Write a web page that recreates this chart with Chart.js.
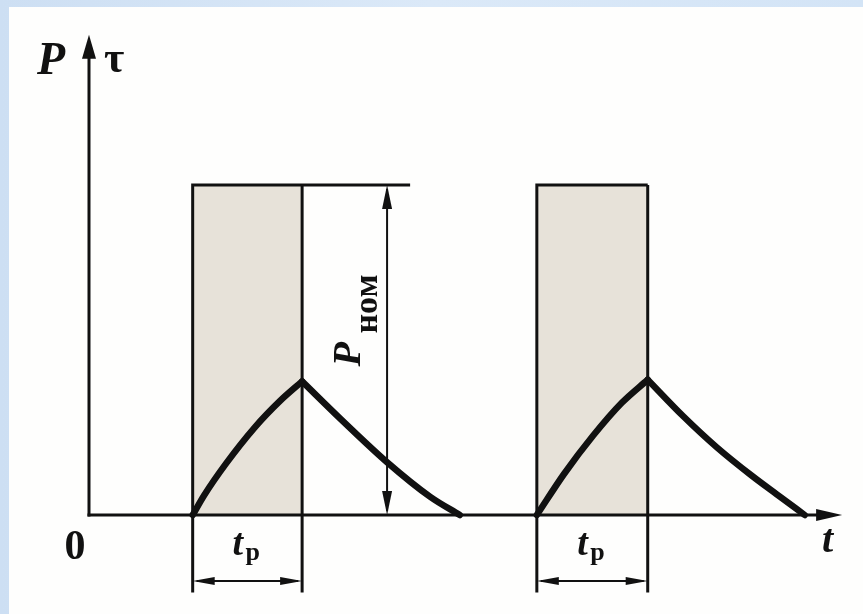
<!DOCTYPE html>
<html>
<head>
<meta charset="utf-8">
<script src="https://cdn.jsdelivr.net/npm/chart.js@4"></script>
<style>
  html, body { margin: 0; padding: 0; }
  body {
    width: 863px; height: 614px; position: relative; overflow: hidden;
    background: linear-gradient(90deg, #cddff3, #dbe9f8 50%, #d3e4f6);
  }
  .sheet { position: absolute; left: 9px; top: 7px; right: 0; bottom: 0; background: #fefefd; }
  #diagram { position: absolute; left: 0; top: 0; }
</style>
</head>
<body>
<div class="sheet"></div>
<canvas id="diagram" width="863" height="614"></canvas>
<script>
// working periods: switch-on / switch-off time and rated power level
const pulseStart = [1.44, 6.22];
const pulseEnd = [2.96, 7.76];
const topLineEnd = [4.46, 7.76];
const pNom = 1.0;

// temperature rise tau while loaded, then cooling after switch-off
const heatT1 = [1.44, 1.6, 1.9, 2.3, 2.65, 2.96];
const heatTau1 = [0, 0.06, 0.155, 0.265, 0.345, 0.405];
const coolT1 = [2.96, 3.5, 4.14, 4.74, 5.15];
const coolTau1 = [0.405, 0.29, 0.16, 0.055, 0];
const heatT2 = [6.22, 6.6, 7.0, 7.4, 7.76];
const heatTau2 = [0, 0.125, 0.24, 0.34, 0.41];
const coolT2 = [7.76, 8.25, 8.72, 9.2, 9.6, 9.94];
const coolTau2 = [0.41, 0.30, 0.205, 0.12, 0.055, 0];

// axis lengths and dimension-line placement
const tAxisEnd = 10.46;
const yAxisEnd = 1.455;
const dimX = 4.14;
const dimY = -0.2;
const extBottom = -0.235;

const INK = '#111';
const SERIF = '"Liberation Serif", "DejaVu Serif", serif';

const pts = (xs, ys) => xs.map((x, i) => ({ x: x, y: ys[i] }));

function curve(xs, ys) {
    return {
        data: pts(xs, ys),
        borderColor: INK,
        borderWidth: 6.5,
        cubicInterpolationMode: 'monotone',
        borderCapStyle: 'round',
        borderJoinStyle: 'round',
        pointRadius: 0,
        fill: false,
        order: 1
    };
}

function edge(data) {
    return {
        data: data,
        borderColor: INK,
        borderWidth: 3,
        pointRadius: 0,
        fill: false,
        tension: 0,
        order: 2
    };
}

const datasets = [];
pulseStart.forEach((s, i) => {
    const e = pulseEnd[i];
    // shaded band while the machine is loaded
    datasets.push({
        data: [{ x: s, y: pNom }, { x: e, y: pNom }],
        fill: 'origin',
        backgroundColor: '#e7e2d9',
        borderWidth: 0,
        pointRadius: 0,
        order: 3
    });
    datasets.push(edge([{ x: s, y: extBottom }, { x: s, y: pNom }, { x: topLineEnd[i], y: pNom }]));
    datasets.push(edge([{ x: e, y: pNom }, { x: e, y: extBottom }]));
});
datasets.push(curve(heatT1, heatTau1), curve(coolT1, coolTau1));
datasets.push(curve(heatT2, heatTau2), curve(coolT2, coolTau2));

function arrowHead(ctx, x, y, dx, dy, len, half) {
    const px = -dy, py = dx;
    ctx.beginPath();
    ctx.moveTo(x, y);
    ctx.lineTo(x - dx * len + px * half, y - dy * len + py * half);
    ctx.lineTo(x - dx * len - px * half, y - dy * len - py * half);
    ctx.closePath();
    ctx.fill();
}

function line(ctx, x1, y1, x2, y2, w) {
    ctx.lineWidth = w;
    ctx.beginPath();
    ctx.moveTo(x1, y1);
    ctx.lineTo(x2, y2);
    ctx.stroke();
}

const diagramPlugin = {
    id: 'diagram',
    afterDatasetsDraw(chart) {
        const ctx = chart.ctx;
        const xs = chart.scales.x, ys = chart.scales.y;
        const x0 = xs.getPixelForValue(0), y0 = ys.getPixelForValue(0);
        ctx.save();
        ctx.strokeStyle = INK;
        ctx.fillStyle = INK;

        // axes with arrows
        const yTop = ys.getPixelForValue(yAxisEnd);
        const xEnd = xs.getPixelForValue(tAxisEnd);
        line(ctx, x0, y0 + 1.5, x0, yTop + 10, 3);
        arrowHead(ctx, x0, yTop, 0, -1, 24, 7);
        line(ctx, x0 - 1.5, y0, xEnd - 10, y0, 3);
        arrowHead(ctx, xEnd, y0, 1, 0, 26, 6);

        // rated power dimension
        const dx = xs.getPixelForValue(dimX);
        const dTop = ys.getPixelForValue(pNom);
        line(ctx, dx, dTop + 4, dx, y0 - 4, 2);
        arrowHead(ctx, dx, dTop, 0, -1, 24, 5);
        arrowHead(ctx, dx, y0, 0, 1, 24, 5);

        // working time dimensions
        const dy = ys.getPixelForValue(dimY);
        pulseStart.forEach((s, i) => {
            const a = xs.getPixelForValue(s), b = xs.getPixelForValue(pulseEnd[i]);
            line(ctx, a + 4, dy, b - 4, dy, 2);
            arrowHead(ctx, a, dy, -1, 0, 22, 4);
            arrowHead(ctx, b, dy, 1, 0, 22, 4);
            const mid = (a + b) / 2;
            ctx.textAlign = 'left';
            ctx.textBaseline = 'alphabetic';
            ctx.font = 'italic bold 38px ' + SERIF;
            ctx.fillText('t', mid - 15, y0 + 40);
            ctx.font = 'bold 26px ' + SERIF;
            ctx.fillText('р', mid - 2, y0 + 45);
        });

        // axis labels
        ctx.textAlign = 'left';
        ctx.textBaseline = 'alphabetic';
        ctx.font = 'italic bold 46px ' + SERIF;
        ctx.fillText('P', x0 - 52, yTop + 39);
        ctx.font = 'bold 44px ' + SERIF;
        ctx.fillText('τ', x0 + 15, yTop + 37);
        ctx.font = 'italic bold 40px ' + SERIF;
        ctx.fillText('t', xEnd - 20, y0 + 37);
        ctx.textAlign = 'center';
        ctx.font = 'bold 42px ' + SERIF;
        ctx.fillText('0', x0 - 14, y0 + 44);

        // P_ном, written upwards beside the dimension line
        ctx.translate(dx - 27, ys.getPixelForValue(0.45));
        ctx.rotate(-Math.PI / 2);
        ctx.textAlign = 'left';
        ctx.font = 'italic bold 40px ' + SERIF;
        ctx.fillText('P', 0, 0);
        ctx.font = 'bold 34px ' + SERIF;
        ctx.fillText('ном', 33, 17);
        ctx.restore();
    }
};

new Chart(document.getElementById('diagram'), {
    type: 'line',
    data: { datasets: datasets },
    options: {
        responsive: false,
        animation: false,
        events: [],
        layout: { padding: 0 },
        plugins: {
            legend: { display: false },
            tooltip: { enabled: false }
        },
        scales: {
            x: { type: 'linear', min: -1.236, max: 10.75, display: false },
            y: { type: 'linear', min: -0.3, max: 1.5606, display: false }
        }
    },
    plugins: [diagramPlugin]
});
</script>
</body>
</html>
